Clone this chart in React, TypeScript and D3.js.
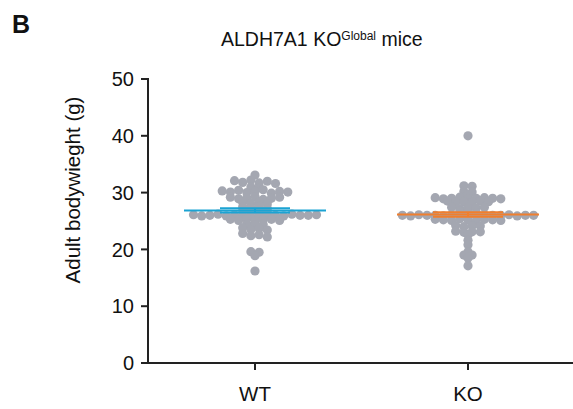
import React from "react";
import * as d3 from "d3";

const categories = ["WT", "KO"];
const yTicks = [0, 10, 20, 30, 40, 50];

// Body weights (g). Near-equal weights are laid out in a row.
const wtValues = [
  33.1,
  32.1, 31.8, 32.2, 31.7, 32.0, 31.6,
  31.0, 30.9,
  30.3, 30.1, 30.4, 30.0, 30.2, 30.5, 29.9, 30.2, 30.1,
  29.2, 28.9, 29.1, 29.3, 28.8, 29.0, 29.2,
  28.3, 28.1, 28.4, 28.0,
  27.5, 27.3, 27.6, 27.2,
  26.8, 26.6, 26.7, 26.5,
  26.1, 25.9, 26.0, 26.2, 25.9, 26.1, 26.0, 25.8, 26.0, 26.1, 26.0, 25.9, 26.2, 26.0, 26.0, 26.1,
  25.3, 25.1, 25.4, 25.0, 25.2, 25.3, 25.1,
  24.5, 24.3, 24.4,
  23.8, 23.5, 23.7, 23.4,
  22.8, 22.4, 22.6, 22.2,
  19.6, 19.5,
  18.9,
  16.2,
];

const koValues = [
  40.0,
  31.2, 31.1,
  30.2, 30.1,
  29.6,
  29.1, 28.9, 29.0, 29.2, 28.9, 29.0, 29.1, 29.0, 28.9,
  28.5, 28.3, 28.4, 28.3, 28.5, 28.4,
  27.4, 27.2, 27.3, 27.3, 27.4,
  26.7, 26.6, 26.5,
  26.0, 25.9, 26.1, 26.0, 26.0, 25.9, 26.1, 26.0, 26.0, 25.9, 26.1, 26.0, 26.0, 26.1, 25.9, 26.0, 26.0,
  25.3, 25.2, 25.1, 25.4, 25.2, 25.0, 25.3, 25.2, 25.1,
  24.2, 24.0, 24.1, 24.1,
  23.2, 23.0, 23.1, 23.1,
  22.6,
  21.6,
  20.8,
  19.6,
  19.0, 19.0,
  18.5,
  17.1,
];

const groupValues = [wtValues, koValues];
const lineColors = ["#1BA3D3", "#F07F2E"];
const dotColor = "#A4A7B1";

const W = 573;
const H = 409;
const FONT = "'Liberation Sans', Arial, sans-serif";

// GraphPad-like scatter: near-equal values (gap <= 0.25 g) share a centred row.
function rowLayout(values: number[], spacing: number) {
  const sorted = values.map((v, i) => ({ v, i })).sort((a, b) => b.v - a.v || a.i - b.i);
  const rows: { v: number; i: number }[][] = [];
  sorted.forEach((p, k) => {
    if (k === 0 || sorted[k - 1].v - p.v > 0.25) rows.push([p]);
    else rows[rows.length - 1].push(p);
  });
  const out: { dx: number; v: number }[] = [];
  for (const row of rows) {
    row.sort((a, b) => a.i - b.i);
    const n = row.length;
    row.forEach((p, k) => out.push({ dx: (k - (n - 1) / 2) * spacing, v: p.v }));
  }
  return out;
}

export default function App() {
  const margin = { left: 148, right: 0, top: 79, bottom: 46 };
  const y = d3.scaleLinear().domain([0, 50]).range([H - margin.bottom, margin.top]);
  const x = d3.scalePoint<string>().domain(categories).range([255, 468]);
  const x0 = margin.left;
  const y0 = y(0);

  return (
    <svg width={W} height={H} style={{ position: "absolute", left: 0, top: 0, background: "#fff" }}>
      <text x={12} y={33} fontFamily={FONT} fontWeight="bold" fontSize={25} fill="#111">B</text>
      <text x={221} y={46} fontFamily={FONT} fontSize={19.5} fill="#111">
        ALDH7A1 KO
        <tspan fontSize={12} dy={-6.5}>Global</tspan>
        <tspan dy={6.5}> mice</tspan>
      </text>

      {groupValues.map((vals, gi) => {
        const cx = x(categories[gi])!;
        const pts = rowLayout(vals, 8.2);
        const mean = d3.mean(vals)!;
        const sem = d3.deviation(vals)! / Math.sqrt(vals.length);
        return (
          <g key={gi}>
            {pts.map((p, i) => (
              <circle key={i} cx={cx + p.dx} cy={y(p.v)} r={4.6} fill={dotColor} />
            ))}
            <line x1={cx - 71} x2={cx + 71} y1={y(mean)} y2={y(mean)} stroke={lineColors[gi]} strokeWidth={2} />
            <line x1={cx - 35} x2={cx + 35} y1={y(mean + sem)} y2={y(mean + sem)} stroke={lineColors[gi]} strokeWidth={2} />
            <line x1={cx - 35} x2={cx + 35} y1={y(mean - sem)} y2={y(mean - sem)} stroke={lineColors[gi]} strokeWidth={2} />
            <line x1={cx} x2={cx} y1={y(mean + sem)} y2={y(mean - sem)} stroke={lineColors[gi]} strokeWidth={2} />
          </g>
        );
      })}

      {/* y axis */}
      <line x1={x0} x2={x0} y1={y(50) - 1} y2={y0 + 1} stroke="#222" strokeWidth={2} />
      {yTicks.map((t) => (
        <g key={t}>
          <line x1={x0 - 7} x2={x0} y1={y(t)} y2={y(t)} stroke="#222" strokeWidth={2} />
          <text x={x0 - 14} y={y(t)} dy="0.36em" textAnchor="end" fontFamily={FONT} fontSize={20} fill="#111">{t}</text>
        </g>
      ))}
      <text
        transform={`translate(80, 190) rotate(-90)`}
        textAnchor="middle"
        fontFamily={FONT}
        fontSize={20.5}
        fill="#111"
      >
        Adult bodywieght (g)
      </text>

      {/* x axis */}
      <line x1={x0 - 1} x2={W} y1={y0} y2={y0} stroke="#222" strokeWidth={2} />
      {categories.map((c) => (
        <g key={c}>
          <line x1={x(c)!} x2={x(c)!} y1={y0} y2={y0 + 7} stroke="#222" strokeWidth={2} />
          <text x={x(c)!} y={y0 + 38} textAnchor="middle" fontFamily={FONT} fontSize={20.5} fill="#111">{c}</text>
        </g>
      ))}
    </svg>
  );
}
